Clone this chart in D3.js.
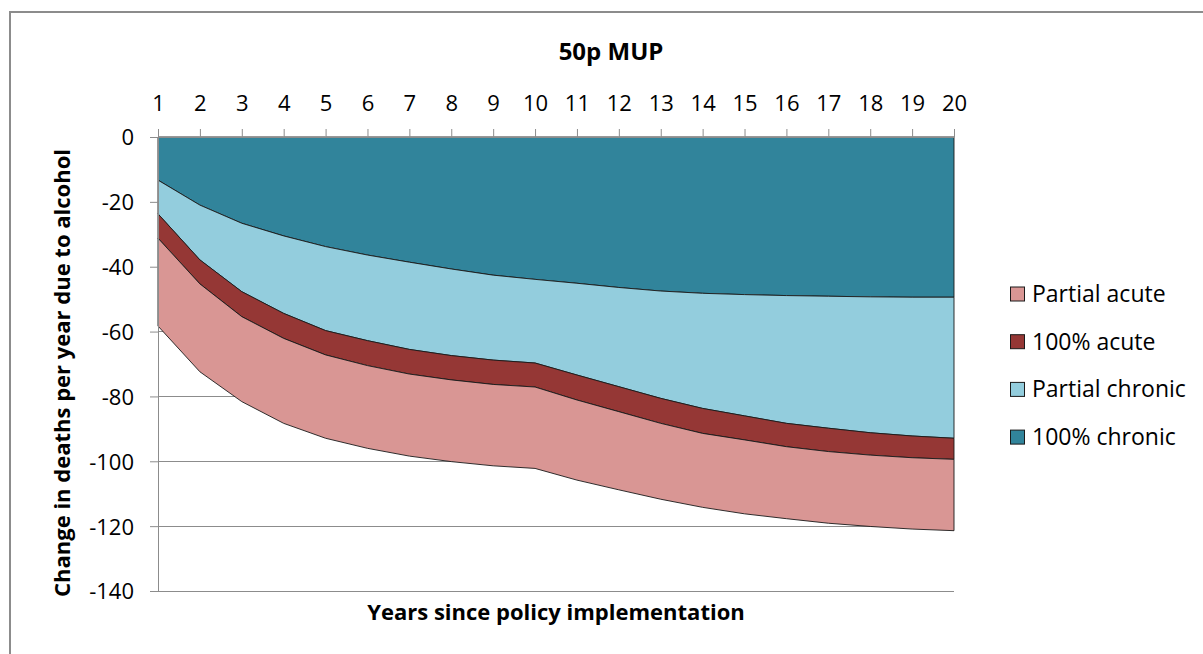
<!DOCTYPE html>
<html><head><meta charset="utf-8">
<script src="https://cdn.jsdelivr.net/npm/d3@7"></script>
<style>
html,body{margin:0;padding:0;background:#fff;}
svg{display:block;}
text{font-family:"Open Sans","Noto Sans",sans-serif;fill:#000;}
</style></head>
<body>
<svg id="chart" width="1203" height="654"></svg>
<script>
const years = [1,2,3,4,5,6,7,8,9,10,11,12,13,14,15,16,17,18,19,20];
const seriesNames = ["100% chronic","Partial chronic","100% acute","Partial acute"];
const chronic100 = [-13.3,-21.0,-26.6,-30.5,-33.8,-36.4,-38.6,-40.7,-42.6,-43.9,-45.1,-46.4,-47.5,-48.2,-48.6,-48.9,-49.1,-49.3,-49.4,-49.4];
const partialChronic = [-10.4,-16.9,-21.1,-23.9,-25.9,-26.4,-26.9,-26.7,-26.2,-25.8,-28.3,-30.6,-33.1,-35.5,-37.4,-39.4,-40.7,-41.9,-42.8,-43.5];
const acute100 = [-7.5,-7.4,-7.7,-7.7,-7.5,-7.7,-7.6,-7.5,-7.5,-7.4,-7.7,-7.7,-7.7,-7.7,-7.4,-7.2,-7.2,-6.9,-6.7,-6.5];
const partialAcute = [-27.1,-27.1,-26.2,-26.2,-25.7,-25.5,-25.3,-25.2,-25.1,-25.1,-24.7,-24.1,-23.4,-22.8,-22.8,-22.2,-22.1,-22.0,-22.0,-22.0];
const yTicks = [0,-20,-40,-60,-80,-100,-120,-140];
const legendOrder = ["Partial acute","100% acute","Partial chronic","100% chronic"];
const colors = {"100% chronic":"#31849b","Partial chronic":"#93cddd","100% acute":"#953735","Partial acute":"#d99694"};

const svg = d3.select("#chart");
const X0 = 158, X1 = 954, Y0 = 137, Y1 = 591;

// outer chart border
svg.append("path").attr("d","M10,654 L10,12 L1203,12")
  .attr("fill","none").attr("stroke","#8c8c8c").attr("stroke-width",2);

const x = d3.scaleLinear().domain([1,20]).range([X0,X1]);
const y = d3.scaleLinear().domain([0,-140]).range([Y0,Y1]);

// gridlines
svg.append("g").selectAll("line").data(yTicks.filter(d=>d!==0)).join("line")
  .attr("x1",X0).attr("x2",X1).attr("y1",d=>y(d)).attr("y2",d=>y(d))
  .attr("stroke","#8c8c8c").attr("stroke-width",1).attr("shape-rendering","crispEdges");

// stacking
const table = years.map((yr,i)=>({year:yr,"100% chronic":chronic100[i],"Partial chronic":partialChronic[i],"100% acute":acute100[i],"Partial acute":partialAcute[i]}));
const stack = d3.stack().keys(seriesNames).offset(d3.stackOffsetDiverging);
const layers = stack(table);
const area = d3.area().x(d=>x(d.data.year)).y0(d=>y(d[0])).y1(d=>y(d[1]));

svg.append("g").selectAll("path").data(layers).join("path")
  .attr("d",area)
  .attr("fill",d=>colors[d.key])
  .attr("stroke","#1a1a1a").attr("stroke-width",0.9).attr("stroke-linejoin","round");

// x axis (top)
const xAxis = d3.axisTop(x).tickValues(years).tickSize(8).tickPadding(18).tickFormat(d=>String(d));
const gx = svg.append("g").attr("transform",`translate(0,${Y0})`).call(xAxis);
gx.select(".domain").attr("stroke","#8c8c8c").attr("d",`M${X0-8},0.5H${X1}`);
gx.selectAll(".tick line").attr("stroke","#8c8c8c");
gx.selectAll(".tick text").attr("font-size",22).attr("fill","#000").attr("font-family","'Open Sans',sans-serif");

// y axis
const yAxis = d3.axisLeft(y).tickValues(yTicks).tickSize(8).tickPadding(16).tickFormat(d=>String(d));
const gy = svg.append("g").attr("transform",`translate(${X0},0)`).call(yAxis);
gy.select(".domain").attr("stroke","#8c8c8c").attr("d",`M0.5,${Y0}V${Y1}`);
gy.selectAll(".tick line").attr("stroke","#8c8c8c");
gy.selectAll(".tick text").attr("font-size",22).attr("fill","#000").attr("font-family","'Open Sans',sans-serif").attr("dy","0.36em");

// title
svg.append("text").attr("x",611).attr("y",60).attr("text-anchor","middle")
  .attr("font-size",24).attr("font-weight","bold").text("50p MUP");

// axis titles
svg.append("text").attr("x",556).attr("y",620).attr("text-anchor","middle")
  .attr("font-size",22).attr("font-weight","bold").text("Years since policy implementation");
svg.append("text").attr("transform","translate(70,373) rotate(-90)").attr("text-anchor","middle")
  .attr("font-size",22).attr("font-weight","bold").text("Change in deaths per year due to alcohol");

// legend
const lg = svg.append("g").selectAll("g").data(legendOrder).join("g")
  .attr("transform",(d,i)=>`translate(1010,${294+i*47.7})`);
lg.append("rect").attr("x",0.5).attr("y",-7).attr("width",14).attr("height",14)
  .attr("fill",d=>colors[d]).attr("stroke","#1a1a1a").attr("stroke-width",1);
lg.append("text").attr("x",22).attr("y",0).attr("dy","0.35em").attr("font-size",23).text(d=>d);
</script>
</body></html>
